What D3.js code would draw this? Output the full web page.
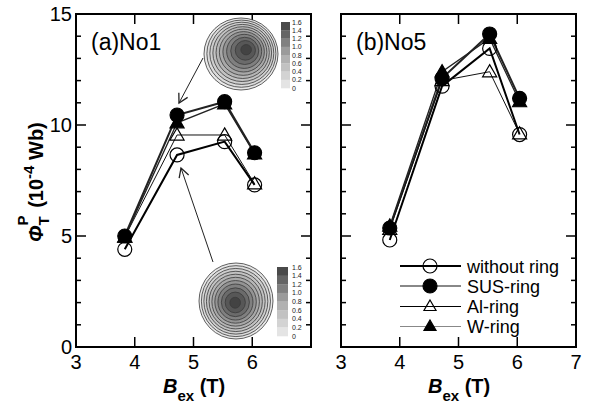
<!DOCTYPE html>
<html>
<head>
<meta charset="utf-8">
<script src="https://cdn.jsdelivr.net/npm/d3@7"></script>
<style>
  body { margin: 0; background: #fff; }
  text { font-family: "Liberation Sans", Arial, sans-serif; }
</style>
</head>
<body>
<div id="Chart"></div>
<script>
// data
var bField = [3.83, 4.72, 5.53, 6.04];
var seriesNames = ["without ring", "SUS-ring", "Al-ring", "W-ring"];
var no1Without = [4.4, 8.65, 9.25, 7.3];
var no1SUS = [5.0, 10.45, 11.05, 8.75];
var no1Al = [4.95, 9.55, 9.55, 7.35];
var no1W = [4.95, 10.1, 10.95, 8.7];
var no5Without = [4.82, 11.75, 13.45, 9.57];
var no5SUS = [5.36, 12.1, 14.1, 11.2];
var no5Al = [5.3, 12.0, 12.4, 9.6];
var no5W = [5.45, 12.4, 13.9, 11.05];
var xTicks = [3, 4, 5, 6, 7];
var yTicks = [0, 5, 10, 15];
var barLabels = ["1.6", "1.4", "1.2", "1.0", "0.8", "0.6", "0.4", "0.2", "0"];
var contourLevels = [0, 0.15, 0.3, 0.45, 0.6, 0.75, 0.9, 1.05, 1.2, 1.35, 1.5];

function makeChart() {
var svgWidth = 590;
var svgHeight = 409;

var svg = d3.select("#Chart")
    .append("svg")
    .attr("width", svgWidth)
    .attr("height", svgHeight);

// series styles (plot lines darker than legend swatches, like the scan)
var styles = [
    {stroke: "#000", width: 2, shape: "circle", fill: "none", key: "#000", keyW: 2},
    {stroke: "#222", width: 2, shape: "circle", fill: "#000", key: "#888", keyW: 2},
    {stroke: "#111", width: 1, shape: "triangle", fill: "none", key: "#000", keyW: 1},
    {stroke: "#222", width: 1.3, shape: "triangle", fill: "#000", key: "#888", keyW: 1}
];

var panels = [
    {left: 76, label: "(a)No1", series: [no1Without, no1SUS, no1Al, no1W], yLabels: true, xLast: false},
    {left: 341, label: "(b)No5", series: [no5Without, no5SUS, no5Al, no5W], yLabels: false, xLast: true}
];
var chartTop = 14, chartBottom = 347, pw = 235;

var yScale = d3.scaleLinear().domain([0, 15]).range([chartBottom, chartTop]);

function drawMarker(g, shape, fill, x, y, size) {
    if (shape === "circle") {
        g.append("circle")
            .attr("cx", x).attr("cy", y).attr("r", size)
            .attr("fill", fill).attr("stroke", "#000").attr("stroke-width", 1.2);
    } else {
        g.append("path")
            .attr("d", d3.symbol().type(d3.symbolTriangle).size(size * size * 1.75)())
            .attr("transform", `translate(${x}, ${y + 1})`)
            .attr("fill", fill).attr("stroke", "#000").attr("stroke-width", 1.2);
    }
}

panels.forEach(function(p) {
    var xScale = d3.scaleLinear().domain([3, 7]).range([p.left, p.left + pw]);
    var g = svg.append("g");

    // ticks, inward on all sides
    var yMinor = d3.range(0, 16, 1);
    yMinor.forEach(function(v) {
        var len = v % 5 === 0 ? 10 : 5;
        g.append("line").attr("x1", p.left).attr("x2", p.left + len)
            .attr("y1", yScale(v)).attr("y2", yScale(v)).attr("stroke", "#000").attr("stroke-width", 1.5);
        g.append("line").attr("x1", p.left + pw).attr("x2", p.left + pw - len)
            .attr("y1", yScale(v)).attr("y2", yScale(v)).attr("stroke", "#000").attr("stroke-width", 1.5);
    });
    xTicks.forEach(function(v) {
        g.append("line").attr("x1", xScale(v)).attr("x2", xScale(v))
            .attr("y1", chartBottom).attr("y2", chartBottom - 10).attr("stroke", "#000").attr("stroke-width", 1.5);
        g.append("line").attr("x1", xScale(v)).attr("x2", xScale(v))
            .attr("y1", chartTop).attr("y2", chartTop + 10).attr("stroke", "#000").attr("stroke-width", 1.5);
        if (v < 7 || p.xLast) {
            g.append("text").attr("x", xScale(v)).attr("y", 369)
                .attr("text-anchor", "middle").style("font-size", "20px").text(v);
        }
    });
    if (p.yLabels) {
        yTicks.forEach(function(v) {
            g.append("text").attr("x", 72).attr("y", yScale(v) + 7)
                .attr("text-anchor", "end").style("font-size", "20px").text(v);
        });
    }
    g.append("rect").attr("x", p.left).attr("y", chartTop).attr("width", pw).attr("height", chartBottom - chartTop)
        .attr("fill", "none").attr("stroke", "#000").attr("stroke-width", 2);

    // panel label
    g.append("text").attr("x", p.left + 15).attr("y", 50)
        .style("font-size", "23px").text(p.label);

    // x label
    var xl = g.append("text").attr("x", p.left + 87).attr("y", 393)
        .style("font-size", "20px").style("font-weight", "bold");
    xl.append("tspan").style("font-style", "italic").text("B");
    xl.append("tspan").attr("dy", 8).style("font-size", "15px").text("ex");
    xl.append("tspan").attr("dy", -8).text(" (T)");

    // lines
    var line = d3.line().x((d, i) => xScale(bField[i])).y(d => yScale(d));
    p.series.forEach(function(s, k) {
        g.append("path").datum(s).attr("d", line)
            .attr("fill", "none").attr("stroke", styles[k].stroke).attr("stroke-width", styles[k].width);
    });
    // markers
    p.series.forEach(function(s, k) {
        s.forEach(function(v, i) {
            drawMarker(g, styles[k].shape, styles[k].fill, xScale(bField[i]), yScale(v), 7);
        });
    });
});

// y label
var yl = svg.append("text")
    .attr("transform", "translate(43, 242) rotate(-90)")
    .style("font-size", "20px").style("font-weight", "bold");
yl.append("tspan").style("font-style", "italic").text("\u03A6");
yl.append("tspan").attr("dy", 6).style("font-size", "15px").text("T");
yl.append("tspan").attr("dx", -9).attr("dy", -21).style("font-size", "15px").text("P");
yl.append("tspan").attr("dx", 2).attr("dy", 15).text(" (10");
yl.append("tspan").attr("dy", -9).style("font-size", "15px").text("-4");
yl.append("tspan").attr("dy", 9).text(" Wb)");

// legend
var legend = svg.append("g");
seriesNames.forEach(function(name, k) {
    var y = 266 + k * 20;
    var ly = styles[k].keyW % 2 === 1 ? y + 0.5 : y;
    legend.append("line").attr("x1", 400).attr("x2", 461).attr("y1", ly).attr("y2", ly)
        .attr("stroke", styles[k].key).attr("stroke-width", styles[k].keyW);
    drawMarker(legend, styles[k].shape, styles[k].fill, 430, y, styles[k].shape === "circle" ? 7 : 6);
    legend.append("text").attr("x", 467).attr("y", y + 6.5).style("font-size", "18px").text(name);
});

// contour insets
var shade = d3.scaleLinear().domain([0, 0.8, 1.6]).range(["#ececec", "#a8a8a8", "#3c3c3c"]);
function inset(cx, cy, rx, ry, px, py, barX, barY, barW, barH) {
    var g = svg.append("g");
    contourLevels.forEach(function(lv) {
        var f = 1 - lv / 1.6;
        var r = Math.pow(f, 0.7);
        g.append("ellipse")
            .attr("cx", px + (cx - px) * r).attr("cy", py + (cy - py) * r)
            .attr("rx", rx * r).attr("ry", ry * r)
            .attr("fill", shade(lv + 0.05)).attr("stroke", "#3a3a3a").attr("stroke-width", 0.8);
    });
    var step = barH / (barLabels.length - 1);
    barLabels.slice(0, -1).forEach(function(lab, i) {
        g.append("rect").attr("x", barX).attr("y", barY + i * step)
            .attr("width", barW).attr("height", step + 0.3)
            .attr("fill", shade(+lab - 0.1));
    });
    barLabels.forEach(function(lab, i) {
        g.append("text").attr("x", 292).attr("y", barY + i * step + 2.5)
            .style("font-size", "7px").attr("fill", "#222").text(lab);
    });
}
inset(241, 54, 37, 36, 247, 49, 281, 22, 9, 66);
inset(236, 301, 37, 38, 235, 303, 277, 267, 11, 69);

// arrows
var defs = svg.append("defs");
defs.append("marker").attr("id", "arrow")
    .attr("viewBox", "-10 -6 12 12").attr("refX", 0).attr("refY", 0)
    .attr("markerWidth", 12).attr("markerHeight", 12).attr("markerUnits", "userSpaceOnUse")
    .attr("orient", "auto")
    .append("path").attr("d", "M-9,-5 L0,0 L-9,5").attr("fill", "none").attr("stroke", "#222").attr("stroke-width", 1.3);
svg.append("line").attr("x1", 203).attr("y1", 58).attr("x2", 179).attr("y2", 103)
    .attr("stroke", "#222").attr("stroke-width", 1).attr("marker-end", "url(#arrow)");
svg.append("line").attr("x1", 213).attr("y1", 262).attr("x2", 181).attr("y2", 168)
    .attr("stroke", "#222").attr("stroke-width", 1).attr("marker-end", "url(#arrow)");
}

makeChart();
</script>
</body>
</html>
